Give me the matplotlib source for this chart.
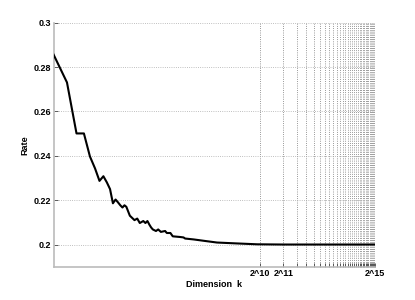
import numpy as np
from matplotlib import pyplot as plt

plt.rcParams['font.family'] = ['Liberation Sans', 'DejaVu Sans']

dims = [2, 3, 4, 5, 6, 7, 8, 9, 10, 11, 12, 13, 14, 15, 16, 17, 18, 20, 23,
        25, 27, 30, 32, 34, 36, 38, 40, 44, 47, 51, 58, 61, 68, 73, 91, 101,
        106, 137, 194, 277, 500, 933, 2048, 32768]
rates = [0.2857, 0.2731, 0.2501, 0.2501, 0.2397, 0.2343, 0.2287, 0.2308,
         0.2280, 0.2250, 0.2186, 0.2203, 0.2190, 0.2177, 0.2167, 0.2177,
         0.2170, 0.2130, 0.2110, 0.2117, 0.2097, 0.2106, 0.2097, 0.2106,
         0.2090, 0.2077, 0.2068, 0.2061, 0.2068, 0.2057, 0.2061, 0.2052,
         0.2052, 0.2037, 0.2034, 0.2032, 0.2027, 0.2023, 0.2016, 0.2009,
         0.2005, 0.2001, 0.2000, 0.2000]

xtick_vals = [1024 * i for i in range(1, 33)]
xtick_text = {1024: '2^10', 2048: '2^11', 32768: '2^15'}
ytick_vals = [0.2, 0.22, 0.24, 0.26, 0.28, 0.3]

fig = plt.figure(figsize=(4.15, 3.0), dpi=100)
ax = fig.add_axes([0.129, 0.111, 0.775, 0.813]);

ax.plot(dims, rates, color='black', lw=1.5, zorder=3);
ax.set_xscale('log');
ax.set_xlim(2, 32768);
ax.set_ylim(0.19, 0.3);

ax.set_xticks(xtick_vals);
ax.set_xticklabels([xtick_text.get(v, '') for v in xtick_vals]);
ax.xaxis.set_minor_locator(plt.NullLocator());
ax.set_yticks(ytick_vals);
ax.set_yticklabels(['0.2', '0.22', '0.24', '0.26', '0.28', '0.3']);

# vertical grid darker than the horizontal one, as in the reference
ax.xaxis.grid(True, linestyle=':', color='#777777', lw=0.6);
ax.yaxis.grid(True, linestyle=':', color='#aaaaaa', lw=0.6);
ax.tick_params(direction='in', length=3, width=0.6, color='#444444',
               labelsize=6.5, pad=2);
for lab in ax.get_xticklabels() + ax.get_yticklabels():
    lab.set_fontweight('bold');

for side in ['top', 'right']:
    ax.spines[side].set_visible(False);
for side in ['left', 'bottom']:
    ax.spines[side].set_color('#bbbbbb');
    ax.spines[side].set_linewidth(1.2);

ax.set_ylabel('Rate', fontsize=6.5, fontweight='bold', labelpad=3);
ax.set_xlabel('Dimension  k', fontsize=6.5, fontweight='bold', labelpad=1);

fig.savefig('out.png', dpi=100);
